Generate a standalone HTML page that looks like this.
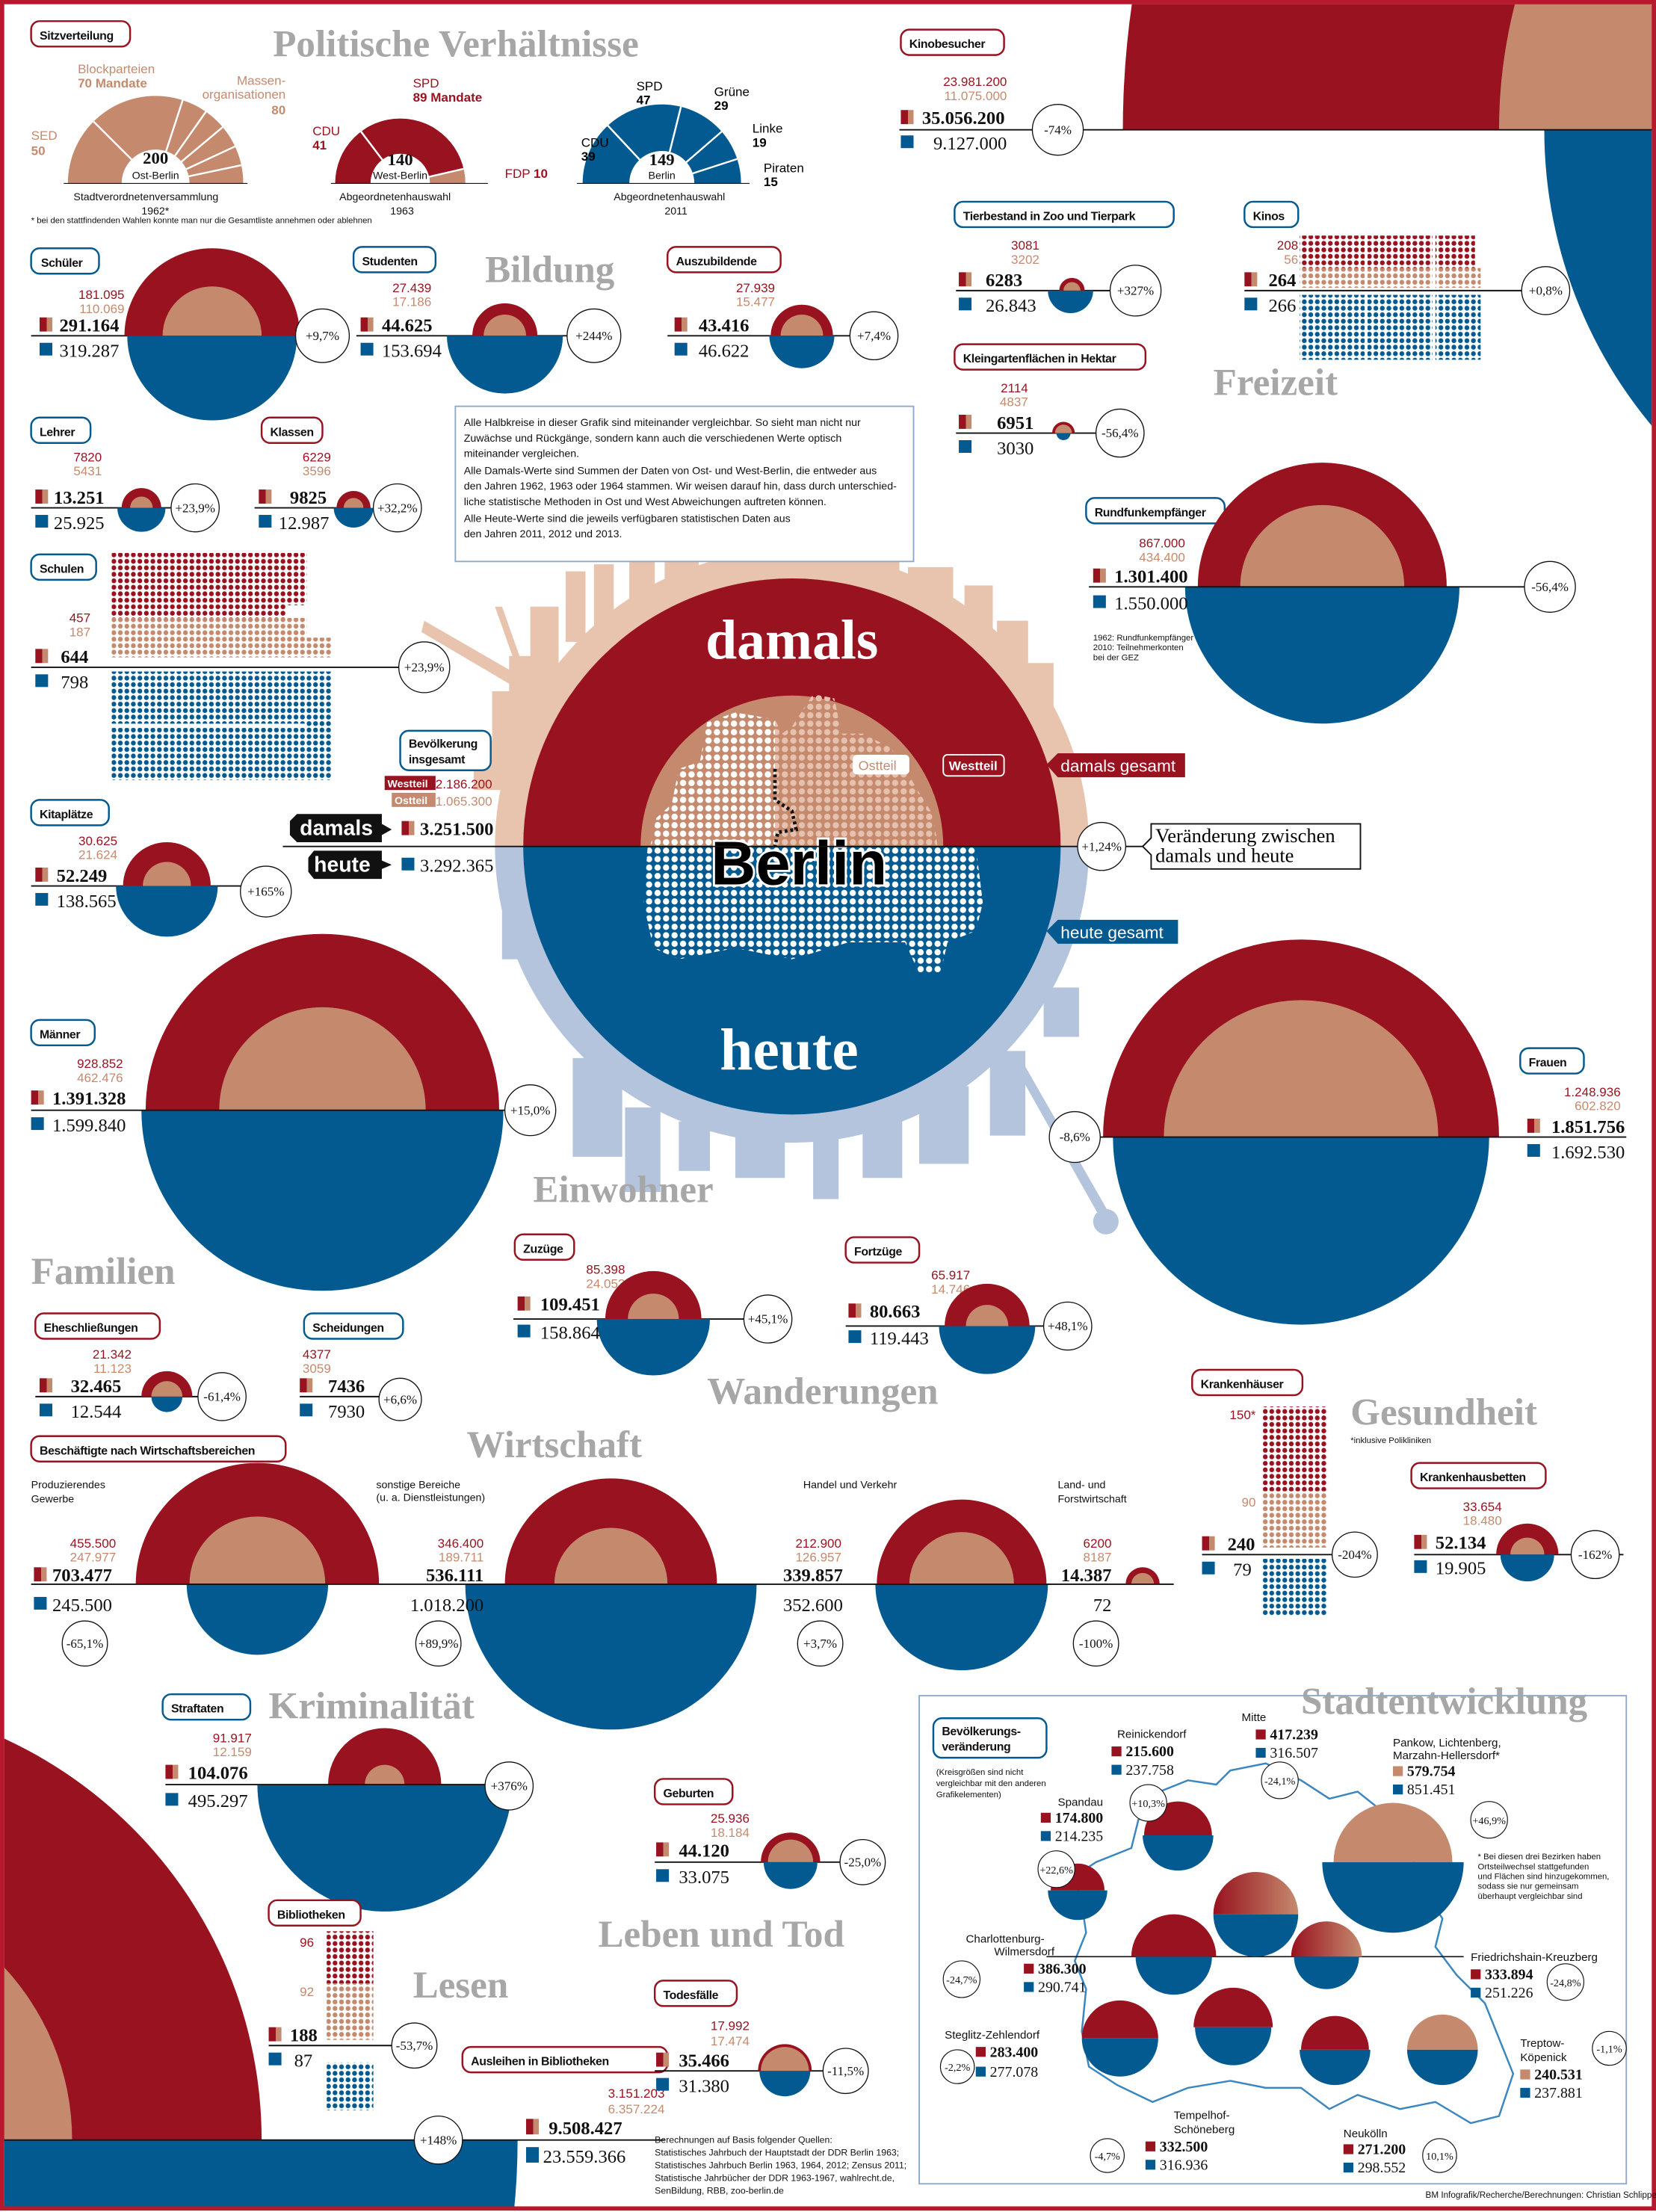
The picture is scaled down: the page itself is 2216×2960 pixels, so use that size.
<!DOCTYPE html>
<html><head><meta charset="utf-8"><style>
html,body{margin:0;padding:0;background:#fff;width:2216px;height:2960px;overflow:hidden}
svg{display:block}
text{font-family:"Liberation Sans",sans-serif}
.h{font-family:"Liberation Serif",serif;font-weight:bold;font-size:27px;fill:#a7a7a7}
.lb{font-weight:bold;font-size:8.4px;fill:#111;letter-spacing:-0.2px}
.r{font-size:9px;fill:#98121f;text-anchor:end}
.t{font-size:9px;fill:#c58a6e;text-anchor:end}
.n{font-family:"Liberation Serif",serif;font-weight:bold;font-size:13px;fill:#111}
.nb{font-family:"Liberation Serif",serif;font-size:13px;fill:#111}
.pc{font-family:"Liberation Serif",serif;font-size:9px;fill:#111;text-anchor:middle}
.sm{font-size:7.5px;fill:#111}
.xs{font-size:6px;fill:#111}
</style></head><body>
<svg width="2216" height="2960" viewBox="0 0 1171 1568" preserveAspectRatio="none" xmlns="http://www.w3.org/2000/svg">
<defs>
<pattern id="pR" width="4.6" height="4.6" patternUnits="userSpaceOnUse"><circle cx="2.3" cy="2.3" r="1.7" fill="#98121f"/></pattern>
<pattern id="pT" width="4.6" height="4.6" patternUnits="userSpaceOnUse"><circle cx="2.3" cy="2.3" r="1.7" fill="#c58a6e"/></pattern>
<pattern id="pB" width="4.6" height="4.6" patternUnits="userSpaceOnUse"><circle cx="2.3" cy="2.3" r="1.7" fill="#035a91"/></pattern>
<pattern id="pW" width="6" height="6" patternUnits="userSpaceOnUse"><circle cx="3" cy="3" r="2.2" fill="#fff"/></pattern>
<pattern id="pW2" width="6" height="6" patternUnits="userSpaceOnUse"><circle cx="3" cy="3" r="2.2" fill="#e6c2ae"/></pattern>
<linearGradient id="ic"><stop offset="0.55" stop-color="#98121f"/><stop offset="0.55" stop-color="#c58a6e"/></linearGradient>
<linearGradient id="gt" x1="0" x2="1"><stop offset="0" stop-color="#98121f"/><stop offset="1" stop-color="#c58a6e"/></linearGradient>
<clipPath id="pg"><rect x="3" y="3" width="1165" height="1562"/></clipPath>
</defs>

<!-- big corner shapes -->
<g clip-path="url(#pg)">
<path d="M794,92 A626,626 0 0 1 2046,92Z" fill="#98121f"/>
<path d="M1060,92 A360,360 0 0 1 1780,92Z" fill="#c58a6e"/>
<path d="M1092,92 A328,328 0 0 0 1748,92Z" fill="#035a91"/>
<path d="M-442,1517 A313,313 0 0 1 185,1517Z" fill="#98121f"/>
<path d="M-309,1517 A180,180 0 0 1 51,1517Z" fill="#c58a6e"/>
<path d="M-622,1517 A494,494 0 0 0 366,1517Z" fill="#035a91"/>
</g>
<line x1="636" y1="92" x2="1171" y2="92" stroke="#111" stroke-width="1"/>
<line x1="0" y1="1517" x2="470" y2="1517" stroke="#111" stroke-width="1"/>

<!-- skyline -->
<g fill="#e8c4ae">
<path d="M350,600 A210,210 0 0 1 770,600Z"/>
<rect x="375" y="430" width="20" height="60"/><rect x="400" y="405" width="14" height="50"/>
<rect x="420" y="400" width="14" height="45"/><rect x="445" y="392" width="18" height="35"/>
<rect x="470" y="398" width="24" height="25"/><rect x="502" y="378" width="8" height="35"/>
<rect x="518" y="388" width="26" height="22"/><rect x="550" y="392" width="14" height="20"/>
<rect x="574" y="382" width="10" height="30"/><rect x="600" y="385" width="8" height="30"/>
<rect x="614" y="392" width="22" height="22"/><rect x="642" y="402" width="32" height="24"/>
<rect x="682" y="415" width="20" height="40"/>
<rect x="705" y="440" width="22" height="40"/><rect x="725" y="470" width="20" height="50"/>
<rect x="348" y="490" width="30" height="50"/><rect x="335" y="525" width="35" height="35"/>
<rect x="360" y="465" width="24" height="35"/>
<polygon points="300,440 395,495 391,503 298,448"/>
<polygon points="350,430 355,430 385,515 380,515"/>
</g>
<g fill="#b3c4dc">
<path d="M350,600 A210,210 0 0 0 770,600Z"/>
<rect x="355" y="610" width="30" height="70"/>
<rect x="405" y="750" width="35" height="70"/><rect x="442" y="785" width="25" height="60"/>
<rect x="480" y="795" width="22" height="35"/><rect x="520" y="800" width="35" height="35"/>
<rect x="575" y="800" width="18" height="50"/><rect x="610" y="790" width="28" height="45"/>
<rect x="650" y="770" width="35" height="55"/><rect x="700" y="745" width="25" height="60"/>
<rect x="738" y="700" width="25" height="35"/>
<polygon points="720,760 725,756 790,870 784,874"/>
<circle cx="782" cy="866" r="9"/>
</g>

<!-- central circle -->
<path d="M370,600 A190,190 0 0 1 750,600Z" fill="#98121f"/>
<path d="M453,600 A107,107 0 0 1 667,600Z" fill="#c58a6e"/>
<path d="M370,600 A190,190 0 0 0 750,600Z" fill="#035a91"/>
<polygon points="460,600 464,580 475,570 480,545 495,540 500,512 520,505 548,510 553,520 560,515 575,492 590,495 595,520 610,520 630,530 640,545 650,562 660,578 663,600" fill="url(#pW2)"/>
<polygon points="460,600 464,580 475,570 480,545 495,540 500,512 520,505 548,510 548,600" fill="url(#pW)"/>
<polygon points="458,600 470,600 690,600 695,640 690,660 670,668 665,690 650,690 640,668 600,668 560,680 520,672 480,680 462,672 455,640" fill="url(#pW)"/>
<polyline points="548,545 548,567 560,575 563,588 550,590 548,600" fill="none" stroke="#111" stroke-width="2.5" stroke-dasharray="2,2"/>
<text x="560" y="467" text-anchor="middle" style="font-family:'Liberation Serif',serif;font-weight:bold;font-size:40px;fill:#fff">damals</text>
<text x="558" y="758" text-anchor="middle" style="font-family:'Liberation Serif',serif;font-weight:bold;font-size:42px;fill:#fff">heute</text>
<text x="565" y="627" text-anchor="middle" style="font-weight:bold;font-size:44px;fill:#000;stroke:#fff;stroke-width:3;paint-order:stroke">Berlin</text>
<rect x="603" y="535" width="40" height="14" rx="3" fill="#fff"/>
<text x="607" y="546" style="font-size:9.5px;fill:#c58a6e">Ostteil</text>
<rect x="667" y="535" width="43" height="15" rx="3" fill="#98121f" stroke="#fff"/>
<text x="671" y="546" style="font-size:9px;fill:#fff;font-weight:bold">Westteil</text>
<polygon points="740,542 748,534 838,534 838,551 748,551" fill="#98121f"/>
<text x="750" y="547" style="font-size:12px;fill:#fff">damals gesamt</text>
<polygon points="740,660 748,652 833,652 833,669 748,669" fill="#035a91"/>
<text x="750" y="665" style="font-size:12px;fill:#fff">heute gesamt</text>
<line x1="200" y1="600" x2="808" y2="600" stroke="#111"/>
<circle cx="779" cy="600" r="17" fill="#fff" stroke="#111" stroke-width="0.7"/><text x="779" y="603" class="pc">+1,24%</text>
<polygon points="808,600 814,594 814,584 962,584 962,616 814,616 814,606" fill="#fff" stroke="#111"/>
<text x="817" y="597" style="font-family:'Liberation Serif',serif;font-size:14px">Veränderung zwischen</text>
<text x="817" y="611" style="font-family:'Liberation Serif',serif;font-size:14px">damals und heute</text>

<!-- border -->
<rect x="1.5" y="1.5" width="1168" height="1564" fill="none" stroke="#b8182d" stroke-width="3"/>

<!-- Politische Verhältnisse -->
<text x="193" y="40" class="h">Politische Verhältnisse</text>
<rect x="22" y="15" width="70" height="18" rx="6" fill="#fff" stroke="#98121f" stroke-width="1.3"/><text x="28" y="28" class="lb">Sitzverteilung</text>
<path d="M48,130 A62,62 0 0 1 172,130Z" fill="#c58a6e"/>
<g stroke="#fff" stroke-width="1.3"><line x1="110" y1="130" x2="66.2" y2="86.2"/><line x1="110" y1="130" x2="129.2" y2="71"/><line x1="110" y1="130" x2="145.6" y2="79.2"/><line x1="110" y1="130" x2="157.5" y2="90.1"/><line x1="110" y1="130" x2="166.2" y2="103.8"/><line x1="110" y1="130" x2="170.6" y2="117.1"/></g>
<path d="M86,130 A24,24 0 0 1 134,130Z" fill="#fff"/>
<text x="110" y="116" text-anchor="middle" class="n" style="font-size:12px">200</text>
<text x="110" y="127" text-anchor="middle" class="sm">Ost-Berlin</text>
<line x1="45" y1="130" x2="175" y2="130" stroke="#111" stroke-width="0.6"/>
<text x="55" y="52" style="font-size:9px;fill:#c58a6e">Blockparteien</text>
<text x="55" y="62" style="font-size:9px;fill:#c58a6e;font-weight:bold">70 Mandate</text>
<text x="202" y="60" text-anchor="end" style="font-size:9px;fill:#c58a6e">Massen-</text>
<text x="202" y="70" text-anchor="end" style="font-size:9px;fill:#c58a6e">organisationen</text>
<text x="202" y="81" text-anchor="end" style="font-size:9px;fill:#c58a6e;font-weight:bold">80</text>
<text x="22" y="99" style="font-size:9px;fill:#c58a6e">SED</text>
<text x="22" y="110" style="font-size:9px;fill:#c58a6e;font-weight:bold">50</text>
<text x="52" y="142" class="sm">Stadtverordnetenversammlung</text>
<text x="100" y="152" class="sm">1962*</text>
<text x="22" y="158" class="xs">* bei den stattfindenden Wahlen konnte man nur die Gesamtliste annehmen oder ablehnen</text>

<path d="M237,130 A46,46 0 0 1 329,130Z" fill="#98121f"/>
<path d="M283,130 L329,130 A46,46 0 0 0 327.8,119.7Z" fill="#c58a6e"/>
<g stroke="#fff" stroke-width="1.3"><line x1="283" y1="130" x2="255.3" y2="93.3"/><line x1="283" y1="130" x2="327.8" y2="119.7"/></g>
<path d="M262,130 A21,21 0 0 1 304,130Z" fill="#fff"/>
<text x="283" y="117" text-anchor="middle" class="n" style="font-size:12px">140</text>
<text x="283" y="127" text-anchor="middle" class="sm">West-Berlin</text>
<line x1="234" y1="130" x2="345" y2="130" stroke="#111" stroke-width="0.6"/>
<text x="292" y="62" style="font-size:9px;fill:#98121f">SPD</text>
<text x="292" y="72" style="font-size:9px;fill:#98121f;font-weight:bold">89 Mandate</text>
<text x="221" y="96" style="font-size:9px;fill:#98121f">CDU</text>
<text x="221" y="106" style="font-size:9px;fill:#98121f;font-weight:bold">41</text>
<text x="357" y="126" style="font-size:9px;fill:#98121f">FDP <tspan font-weight="bold">10</tspan></text>
<text x="240" y="142" class="sm">Abgeordnetenhauswahl</text>
<text x="276" y="152" class="sm">1963</text>

<path d="M412,130 A56,56 0 0 1 524,130Z" fill="#035a91"/>
<g stroke="#fff" stroke-width="1.3"><line x1="468" y1="130" x2="429.8" y2="89"/><line x1="468" y1="130" x2="481.5" y2="75.7"/><line x1="468" y1="130" x2="510.3" y2="93.3"/><line x1="468" y1="130" x2="521.3" y2="112.7"/></g>
<path d="M445,130 A23,23 0 0 1 491,130Z" fill="#fff"/>
<text x="468" y="117" text-anchor="middle" class="n" style="font-size:12px">149</text>
<text x="468" y="127" text-anchor="middle" class="sm">Berlin</text>
<line x1="408" y1="130" x2="530" y2="130" stroke="#111" stroke-width="0.6"/>
<text x="450" y="64" style="font-size:9px">SPD</text><text x="450" y="74" style="font-size:9px;font-weight:bold">47</text>
<text x="505" y="68" style="font-size:9px">Grüne</text><text x="505" y="78" style="font-size:9px;font-weight:bold">29</text>
<text x="532" y="94" style="font-size:9px">Linke</text><text x="532" y="104" style="font-size:9px;font-weight:bold">19</text>
<text x="411" y="104" style="font-size:9px">CDU</text><text x="411" y="114" style="font-size:9px;font-weight:bold">39</text>
<text x="540" y="122" style="font-size:9px">Piraten</text><text x="540" y="132" style="font-size:9px;font-weight:bold">15</text>
<text x="434" y="142" class="sm">Abgeordnetenhauswahl</text>
<text x="470" y="152" class="sm">2011</text>

<!-- Kinobesucher -->
<rect x="637" y="21" width="73" height="18" rx="6" fill="#fff" stroke="#98121f" stroke-width="1.3"/><text x="643" y="34" class="lb">Kinobesucher</text>
<text x="712" y="61" class="r">23.981.200</text><text x="712" y="71" class="t">11.075.000</text>
<rect x="637" y="78" width="9" height="10" fill="url(#ic)"/><text x="652" y="88" class="n">35.056.200</text>
<rect x="637" y="96" width="9" height="9" fill="#035a91"/><text x="660" y="106" class="nb">9.127.000</text>
<circle cx="748" cy="92" r="18" fill="#fff" stroke="#111" stroke-width="0.7"/><text x="748" y="95" class="pc">-74%</text>

<!-- Bildung -->
<text x="343" y="200" class="h">Bildung</text>
<rect x="22" y="176" width="48" height="18" rx="6" fill="#fff" stroke="#035a91" stroke-width="1.3"/><text x="29" y="189" class="lb">Schüler</text>
<text x="88" y="212" class="r">181.095</text><text x="88" y="222" class="t">110.069</text>
<rect x="28" y="225" width="9" height="10" fill="url(#ic)"/><text x="42" y="235" class="n">291.164</text>
<line x1="22" y1="238" x2="210" y2="238" stroke="#111"/>
<path d="M88,238 A62,62 0 0 1 212,238Z" fill="#98121f"/><path d="M115,238 A35,35 0 0 1 185,238Z" fill="#c58a6e"/><path d="M90,238 A60,60 0 0 0 210,238Z" fill="#035a91"/>
<rect x="28" y="243" width="9" height="9" fill="#035a91"/><text x="42" y="253" class="nb">319.287</text>
<circle cx="228" cy="238" r="19" fill="#fff" stroke="#111" stroke-width="0.7"/><text x="228" y="241" class="pc">+9,7%</text>

<rect x="250" y="175" width="58" height="18" rx="6" fill="#fff" stroke="#035a91" stroke-width="1.3"/><text x="256" y="188" class="lb">Studenten</text>
<text x="305" y="207" class="r">27.439</text><text x="305" y="217" class="t">17.186</text>
<rect x="255" y="225" width="9" height="10" fill="url(#ic)"/><text x="270" y="235" class="n">44.625</text>
<line x1="252" y1="238" x2="402" y2="238" stroke="#111"/>
<path d="M334,238 A23,23 0 0 1 380,238Z" fill="#98121f"/><path d="M342,238 A15,15 0 0 1 372,238Z" fill="#c58a6e"/><path d="M316,238 A41,41 0 0 0 398,238Z" fill="#035a91"/>
<rect x="255" y="243" width="9" height="9" fill="#035a91"/><text x="270" y="253" class="nb">153.694</text>
<circle cx="420" cy="238" r="19" fill="#fff" stroke="#111" stroke-width="0.7"/><text x="420" y="241" class="pc">+244%</text>

<rect x="472" y="175" width="80" height="18" rx="6" fill="#fff" stroke="#98121f" stroke-width="1.3"/><text x="478" y="188" class="lb">Auszubildende</text>
<text x="548" y="207" class="r">27.939</text><text x="548" y="217" class="t">15.477</text>
<rect x="477" y="225" width="9" height="10" fill="url(#ic)"/><text x="494" y="235" class="n">43.416</text>
<line x1="472" y1="238" x2="602" y2="238" stroke="#111"/>
<path d="M545,238 A22,22 0 0 1 589,238Z" fill="#98121f"/><path d="M552,238 A15,15 0 0 1 582,238Z" fill="#c58a6e"/><path d="M544,238 A23,23 0 0 0 590,238Z" fill="#035a91"/>
<rect x="477" y="243" width="9" height="9" fill="#035a91"/><text x="494" y="253" class="nb">46.622</text>
<circle cx="618" cy="238" r="17" fill="#fff" stroke="#111" stroke-width="0.7"/><text x="618" y="241" class="pc">+7,4%</text>

<rect x="22" y="296" width="42" height="18" rx="6" fill="#fff" stroke="#035a91" stroke-width="1.3"/><text x="28" y="309" class="lb">Lehrer</text>
<text x="72" y="327" class="r">7820</text><text x="72" y="337" class="t">5431</text>
<rect x="25" y="347" width="9" height="10" fill="url(#ic)"/><text x="38" y="357" class="n">13.251</text>
<line x1="22" y1="360" x2="122" y2="360" stroke="#111"/>
<path d="M86,360 A14,14 0 0 1 114,360Z" fill="#98121f"/><path d="M92,360 A8,8 0 0 1 108,360Z" fill="#c58a6e"/><path d="M83,360 A17,17 0 0 0 117,360Z" fill="#035a91"/>
<rect x="25" y="365" width="9" height="9" fill="#035a91"/><text x="38" y="375" class="nb">25.925</text>
<circle cx="138" cy="360" r="17" fill="#fff" stroke="#111" stroke-width="0.7"/><text x="138" y="363" class="pc">+23,9%</text>

<rect x="185" y="296" width="43" height="18" rx="6" fill="#fff" stroke="#98121f" stroke-width="1.3"/><text x="191" y="309" class="lb">Klassen</text>
<text x="234" y="327" class="r">6229</text><text x="234" y="337" class="t">3596</text>
<rect x="183" y="347" width="9" height="10" fill="url(#ic)"/><text x="205" y="357" class="n">9825</text>
<line x1="180" y1="360" x2="262" y2="360" stroke="#111"/>
<path d="M238,360 A12,12 0 0 1 262,360Z" fill="#98121f"/><path d="M243,360 A7,7 0 0 1 257,360Z" fill="#c58a6e"/><path d="M236,360 A14,14 0 0 0 264,360Z" fill="#035a91"/>
<rect x="183" y="365" width="9" height="9" fill="#035a91"/><text x="197" y="375" class="nb">12.987</text>
<circle cx="281" cy="360" r="17" fill="#fff" stroke="#111" stroke-width="0.7"/><text x="281" y="363" class="pc">+32,2%</text>

<rect x="322" y="288" width="324" height="110" fill="#fff" stroke="#8fa9c8" stroke-width="1"/>
<g>
<text x="328" y="302" class="sm">Alle Halbkreise in dieser Grafik sind miteinander vergleichbar. So sieht man nicht nur</text>
<text x="328" y="313" class="sm">Zuwächse und Rückgänge, sondern kann auch die verschiedenen Werte optisch</text>
<text x="328" y="324" class="sm">miteinander vergleichen.</text>
<text x="328" y="336" class="sm">Alle Damals-Werte sind Summen der Daten von Ost- und West-Berlin, die entweder aus</text>
<text x="328" y="347" class="sm">den Jahren 1962, 1963 oder 1964 stammen. Wir weisen darauf hin, dass durch unterschied-</text>
<text x="328" y="358" class="sm">liche statistische Methoden in Ost und West Abweichungen auftreten können.</text>
<text x="328" y="370" class="sm">Alle Heute-Werte sind die jeweils verfügbaren statistischen Daten aus</text>
<text x="328" y="381" class="sm">den Jahren 2011, 2012  und 2013.</text>
</g>

<!-- Schulen -->
<rect x="22" y="393" width="46" height="18" rx="6" fill="#fff" stroke="#035a91" stroke-width="1.3"/><text x="28" y="406" class="lb">Schulen</text>
<text x="64" y="441" class="r">457</text><text x="64" y="451" class="t">187</text>
<rect x="25" y="460" width="9" height="10" fill="url(#ic)"/><text x="43" y="470" class="n">644</text>
<rect x="25" y="478" width="9" height="9" fill="#035a91"/><text x="43" y="488" class="nb">798</text>
<rect x="79" y="392" width="46" height="37" fill="url(#pR)"/><rect x="125" y="392" width="46" height="37" fill="url(#pR)"/><rect x="171" y="392" width="46" height="37" fill="url(#pR)"/>
<rect x="79" y="429" width="46" height="9" fill="url(#pR)"/><rect x="125" y="429" width="46" height="9" fill="url(#pR)"/><rect x="171" y="429" width="32" height="9" fill="url(#pR)"/>
<rect x="79" y="438" width="46" height="28" fill="url(#pT)"/><rect x="125" y="438" width="46" height="28" fill="url(#pT)"/><rect x="171" y="438" width="46" height="28" fill="url(#pT)"/><rect x="217" y="452" width="18" height="14" fill="url(#pT)"/>
<rect x="79" y="476" width="46" height="37" fill="url(#pB)"/><rect x="125" y="476" width="46" height="37" fill="url(#pB)"/><rect x="171" y="476" width="46" height="37" fill="url(#pB)"/>
<rect x="79" y="516" width="46" height="37" fill="url(#pB)"/><rect x="125" y="516" width="46" height="37" fill="url(#pB)"/><rect x="171" y="516" width="46" height="37" fill="url(#pB)"/><rect x="217" y="476" width="18" height="77" fill="url(#pB)"/>
<line x1="22" y1="473" x2="282" y2="473" stroke="#111"/>
<circle cx="300" cy="473" r="18" fill="#fff" stroke="#111" stroke-width="0.7"/><text x="300" y="476" class="pc">+23,9%</text>

<!-- Kita -->
<rect x="22" y="567" width="55" height="18" rx="6" fill="#fff" stroke="#035a91" stroke-width="1.3"/><text x="28" y="580" class="lb">Kitaplätze</text>
<text x="83" y="599" class="r">30.625</text><text x="83" y="609" class="t">21.624</text>
<rect x="25" y="615" width="9" height="10" fill="url(#ic)"/><text x="40" y="625" class="n">52.249</text>
<line x1="22" y1="628" x2="172" y2="628" stroke="#111"/>
<path d="M87,628 A31,31 0 0 1 149,628Z" fill="#98121f"/><path d="M101,628 A17,17 0 0 1 135,628Z" fill="#c58a6e"/><path d="M82,628 A36,36 0 0 0 154,628Z" fill="#035a91"/>
<rect x="25" y="633" width="9" height="9" fill="#035a91"/><text x="40" y="643" class="nb">138.565</text>
<circle cx="188" cy="632" r="18" fill="#fff" stroke="#111" stroke-width="0.7"/><text x="188" y="635" class="pc">+165%</text>

<!-- Bevölkerung -->
<rect x="283" y="518" width="64" height="28" rx="6" fill="#fff" stroke="#035a91" stroke-width="1.3"/><text x="289" y="530" class="lb">Bevölkerung</text><text x="289" y="541" class="lb">insgesamt</text>
<rect x="272" y="550" width="36" height="10" fill="#98121f"/><text x="274" y="558" style="font-size:7.5px;fill:#fff;font-weight:bold">Westteil</text><text x="348" y="559" class="r">2.186.200</text>
<rect x="277" y="562" width="31" height="10" fill="#c58a6e"/><text x="279" y="570" style="font-size:7.5px;fill:#fff;font-weight:bold">Ostteil</text><text x="348" y="571" class="t">1.065.300</text>
<polygon points="210,577 270,577 270,584 277,588 270,592 270,597 210,597 205,592 205,582" fill="#111"/>
<text x="212" y="592" style="font-size:15px;fill:#fff;font-weight:bold">damals</text>
<rect x="284" y="582" width="9" height="10" fill="url(#ic)"/><text x="297" y="592" class="n">3.251.500</text>
<polygon points="222,603 270,603 270,610 277,613 270,616 270,623 222,623 218,618 218,608" fill="#111"/>
<text x="222" y="618" style="font-size:15px;fill:#fff;font-weight:bold">heute</text>
<rect x="284" y="608" width="9" height="9" fill="#035a91"/><text x="297" y="618" class="nb">3.292.365</text>

<!-- Männer -->
<rect x="22" y="723" width="45" height="18" rx="6" fill="#fff" stroke="#035a91" stroke-width="1.3"/><text x="28" y="736" class="lb">Männer</text>
<text x="87" y="757" class="r">928.852</text><text x="87" y="767" class="t">462.476</text>
<rect x="22" y="773" width="9" height="10" fill="url(#ic)"/><text x="37" y="783" class="n">1.391.328</text>
<path d="M103,787 A125,125 0 0 1 353,787Z" fill="#98121f"/><path d="M155,787 A73,73 0 0 1 301,787Z" fill="#c58a6e"/><path d="M100,787 A128,128 0 0 0 356,787Z" fill="#035a91"/>
<line x1="22" y1="787" x2="360" y2="787" stroke="#111"/>
<rect x="22" y="792" width="9" height="9" fill="#035a91"/><text x="37" y="802" class="nb">1.599.840</text>
<circle cx="375" cy="787" r="18" fill="#fff" stroke="#111" stroke-width="0.7"/><text x="375" y="790" class="pc">+15,0%</text>

<!-- Frauen -->
<rect x="1075" y="743" width="45" height="18" rx="6" fill="#fff" stroke="#035a91" stroke-width="1.3"/><text x="1081" y="756" class="lb">Frauen</text>
<text x="1146" y="777" class="r">1.248.936</text><text x="1146" y="787" class="t">602.820</text>
<path d="M780,806 A140,140 0 0 1 1060,806Z" fill="#98121f"/><path d="M823,806 A97,97 0 0 1 1017,806Z" fill="#c58a6e"/><path d="M787,806 A133,133 0 0 0 1053,806Z" fill="#035a91"/>
<line x1="745" y1="806" x2="1150" y2="806" stroke="#111"/>
<rect x="1080" y="793" width="9" height="10" fill="url(#ic)"/><text x="1097" y="803" class="n">1.851.756</text>
<rect x="1080" y="811" width="9" height="9" fill="#035a91"/><text x="1097" y="821" class="nb">1.692.530</text>
<circle cx="760" cy="806" r="18" fill="#fff" stroke="#111" stroke-width="0.7"/><text x="760" y="809" class="pc">-8,6%</text>

<!-- Freizeit -->
<rect x="675" y="143" width="155" height="18" rx="6" fill="#fff" stroke="#035a91" stroke-width="1.3"/><text x="681" y="156" class="lb">Tierbestand in  Zoo und Tierpark</text>
<text x="735" y="177" class="r">3081</text><text x="735" y="187" class="t">3202</text>
<rect x="678" y="193" width="9" height="10" fill="url(#ic)"/><text x="697" y="203" class="n">6283</text>
<line x1="676" y1="206" x2="785" y2="206" stroke="#111"/>
<path d="M749,206 A9,9 0 0 1 767,206Z" fill="#98121f"/><path d="M752,206 A6,6 0 0 1 764,206Z" fill="#c58a6e"/><path d="M741,206 A16,16 0 0 0 773,206Z" fill="#035a91"/>
<rect x="678" y="211" width="9" height="9" fill="#035a91"/><text x="697" y="221" class="nb">26.843</text>
<circle cx="803" cy="206" r="18" fill="#fff" stroke="#111" stroke-width="0.7"/><text x="803" y="209" class="pc">+327%</text>

<rect x="675" y="244" width="135" height="18" rx="6" fill="#fff" stroke="#98121f" stroke-width="1.3"/><text x="681" y="257" class="lb">Kleingartenflächen in Hektar</text>
<text x="727" y="278" class="r">2114</text><text x="727" y="288" class="t">4837</text>
<rect x="678" y="294" width="9" height="10" fill="url(#ic)"/><text x="705" y="304" class="n">6951</text>
<line x1="676" y1="307" x2="775" y2="307" stroke="#111"/>
<path d="M744,307 A8,8 0 0 1 760,307Z" fill="#98121f"/><path d="M746,307 A6,6 0 0 1 758,307Z" fill="#c58a6e"/><path d="M747,307 A5,5 0 0 0 757,307Z" fill="#035a91"/>
<rect x="678" y="312" width="9" height="9" fill="#035a91"/><text x="705" y="322" class="nb">3030</text>
<circle cx="792" cy="307" r="17" fill="#fff" stroke="#111" stroke-width="0.7"/><text x="792" y="310" class="pc">-56,4%</text>

<rect x="880" y="143" width="38" height="18" rx="6" fill="#fff" stroke="#035a91" stroke-width="1.3"/><text x="886" y="156" class="lb">Kinos</text>
<text x="918" y="177" class="r">208</text><text x="918" y="187" class="t">56</text>
<rect x="880" y="193" width="9" height="10" fill="url(#ic)"/><text x="897" y="203" class="n">264</text>
<rect x="880" y="211" width="9" height="9" fill="#035a91"/><text x="897" y="221" class="nb">266</text>
<rect x="919" y="167" width="46" height="23" fill="url(#pR)"/><rect x="967" y="167" width="46" height="23" fill="url(#pR)"/><rect x="1015" y="167" width="28" height="23" fill="url(#pR)"/>
<rect x="919" y="190" width="46" height="14" fill="url(#pT)"/><rect x="967" y="190" width="46" height="14" fill="url(#pT)"/><rect x="1015" y="190" width="32" height="14" fill="url(#pT)"/>
<rect x="919" y="209" width="46" height="46" fill="url(#pB)"/><rect x="967" y="209" width="46" height="46" fill="url(#pB)"/><rect x="1015" y="209" width="32" height="46" fill="url(#pB)"/>
<line x1="880" y1="206" x2="1080" y2="206" stroke="#111"/>
<circle cx="1093" cy="206" r="17" fill="#fff" stroke="#111" stroke-width="0.7"/><text x="1093" y="209" class="pc">+0,8%</text>
<text x="858" y="280" class="h">Freizeit</text>

<rect x="768" y="353" width="98" height="18" rx="6" fill="#fff" stroke="#035a91" stroke-width="1.3"/><text x="774" y="366" class="lb">Rundfunkempfänger</text>
<text x="838" y="388" class="r">867.000</text><text x="838" y="398" class="t">434.400</text>
<path d="M847,416 A88,88 0 0 1 1023,416Z" fill="#98121f"/><path d="M877,416 A58,58 0 0 1 993,416Z" fill="#c58a6e"/><path d="M838,416 A97,97 0 0 0 1032,416Z" fill="#035a91"/>
<line x1="770" y1="416" x2="1080" y2="416" stroke="#111"/>
<rect x="773" y="403" width="9" height="10" fill="url(#ic)"/><text x="788" y="413" class="n">1.301.400</text>
<rect x="773" y="422" width="9" height="9" fill="#035a91"/><text x="788" y="432" class="nb">1.550.000</text>
<text x="773" y="454" class="xs">1962: Rundfunkempfänger</text><text x="773" y="461" class="xs">2010: Teilnehmerkonten</text><text x="773" y="468" class="xs">bei der GEZ</text>
<circle cx="1096" cy="416" r="18" fill="#fff" stroke="#111" stroke-width="0.7"/><text x="1096" y="419" class="pc">-56,4%</text>

<!-- Einwohner / Familien / Wanderungen -->
<text x="377" y="852" class="h">Einwohner</text>
<text x="22" y="910" class="h">Familien</text>
<text x="500" y="995" class="h">Wanderungen</text>

<rect x="364" y="875" width="42" height="18" rx="6" fill="#fff" stroke="#98121f" stroke-width="1.3"/><text x="370" y="888" class="lb">Zuzüge</text>
<text x="442" y="903" class="r">85.398</text><text x="442" y="913" class="t">24.053</text>
<rect x="366" y="919" width="9" height="10" fill="url(#ic)"/><text x="382" y="929" class="n">109.451</text>
<line x1="363" y1="935" x2="528" y2="935" stroke="#111"/>
<path d="M428,935 A34,34 0 0 1 496,935Z" fill="#98121f"/><path d="M444,935 A18,18 0 0 1 480,935Z" fill="#c58a6e"/><path d="M422,935 A40,40 0 0 0 502,935Z" fill="#035a91"/>
<rect x="366" y="939" width="9" height="9" fill="#035a91"/><text x="382" y="949" class="nb">158.864</text>
<circle cx="543" cy="935" r="17" fill="#fff" stroke="#111" stroke-width="0.7"/><text x="543" y="938" class="pc">+45,1%</text>

<rect x="598" y="877" width="52" height="18" rx="6" fill="#fff" stroke="#98121f" stroke-width="1.3"/><text x="604" y="890" class="lb">Fortzüge</text>
<text x="686" y="907" class="r">65.917</text><text x="686" y="917" class="t">14.746</text>
<rect x="600" y="924" width="9" height="10" fill="url(#ic)"/><text x="615" y="934" class="n">80.663</text>
<line x1="598" y1="940" x2="740" y2="940" stroke="#111"/>
<path d="M668,940 A30,30 0 0 1 728,940Z" fill="#98121f"/><path d="M683,940 A15,15 0 0 1 713,940Z" fill="#c58a6e"/><path d="M664,940 A34,34 0 0 0 732,940Z" fill="#035a91"/>
<rect x="600" y="943" width="9" height="9" fill="#035a91"/><text x="615" y="953" class="nb">119.443</text>
<circle cx="755" cy="940" r="17" fill="#fff" stroke="#111" stroke-width="0.7"/><text x="755" y="943" class="pc">+48,1%</text>

<rect x="25" y="931" width="88" height="18" rx="6" fill="#fff" stroke="#98121f" stroke-width="1.3"/><text x="31" y="944" class="lb">Eheschließungen</text>
<text x="93" y="963" class="r">21.342</text><text x="93" y="973" class="t">11.123</text>
<rect x="28" y="977" width="9" height="10" fill="url(#ic)"/><text x="50" y="987" class="n">32.465</text>
<line x1="25" y1="990" x2="140" y2="990" stroke="#111"/>
<path d="M100,990 A18,18 0 0 1 136,990Z" fill="#98121f"/><path d="M107,990 A11,11 0 0 1 129,990Z" fill="#c58a6e"/><path d="M107,990 A11,11 0 0 0 129,990Z" fill="#035a91"/>
<rect x="28" y="995" width="9" height="9" fill="#035a91"/><text x="50" y="1005" class="nb">12.544</text>
<circle cx="157" cy="990" r="17" fill="#fff" stroke="#111" stroke-width="0.7"/><text x="157" y="993" class="pc">-61,4%</text>

<rect x="215" y="931" width="70" height="18" rx="6" fill="#fff" stroke="#035a91" stroke-width="1.3"/><text x="221" y="944" class="lb">Scheidungen</text>
<text x="234" y="963" class="r">4377</text><text x="234" y="973" class="t">3059</text>
<rect x="212" y="977" width="9" height="10" fill="url(#ic)"/><text x="232" y="987" class="n">7436</text>
<line x1="212" y1="990" x2="268" y2="990" stroke="#111"/>
<rect x="212" y="995" width="9" height="9" fill="#035a91"/><text x="232" y="1005" class="nb">7930</text>
<circle cx="283" cy="992" r="15" fill="#fff" stroke="#111" stroke-width="0.7"/><text x="283" y="995" class="pc">+6,6%</text>

<!-- Wirtschaft -->
<text x="330" y="1033" class="h">Wirtschaft</text>
<rect x="22" y="1018" width="180" height="18" rx="6" fill="#fff" stroke="#98121f" stroke-width="1.3"/><text x="28" y="1031" class="lb">Beschäftigte nach Wirtschaftsbereichen</text>
<path d="M96,1123 A86,86 0 0 1 268,1123Z" fill="#98121f"/><path d="M134,1123 A48,48 0 0 1 230,1123Z" fill="#c58a6e"/><path d="M132,1123 A50,50 0 0 0 232,1123Z" fill="#035a91"/>
<path d="M357,1123 A75,75 0 0 1 507,1123Z" fill="#98121f"/><path d="M392,1123 A40,40 0 0 1 472,1123Z" fill="#c58a6e"/><path d="M329,1123 A103,103 0 0 0 535,1123Z" fill="#035a91"/>
<path d="M620,1123 A60,60 0 0 1 740,1123Z" fill="#98121f"/><path d="M643,1123 A37,37 0 0 1 717,1123Z" fill="#c58a6e"/><path d="M619,1123 A61,61 0 0 0 741,1123Z" fill="#035a91"/>
<path d="M796,1123 A12,12 0 0 1 820,1123Z" fill="#98121f"/><path d="M800,1123 A8,8 0 0 1 816,1123Z" fill="#c58a6e"/>
<line x1="22" y1="1123" x2="830" y2="1123" stroke="#111"/>
<text x="22" y="1055" class="sm">Produzierendes</text><text x="22" y="1065" class="sm">Gewerbe</text>
<text x="82" y="1097" class="r">455.500</text><text x="82" y="1107" class="t">247.977</text>
<rect x="24" y="1111" width="9" height="10" fill="url(#ic)"/><text x="37" y="1121" class="n">703.477</text>
<rect x="24" y="1132" width="9" height="9" fill="#035a91"/><text x="37" y="1142" class="nb">245.500</text>
<circle cx="60" cy="1165" r="16" fill="#fff" stroke="#111" stroke-width="0.7"/><text x="60" y="1168" class="pc">-65,1%</text>
<text x="266" y="1055" class="sm">sonstige Bereiche</text><text x="266" y="1064" class="sm">(u. a. Dienstleistungen)</text>
<text x="342" y="1097" class="r">346.400</text><text x="342" y="1107" class="t">189.711</text>
<text x="342" y="1121" class="n" text-anchor="end">536.111</text><text x="342" y="1142" class="nb" text-anchor="end">1.018.200</text>
<circle cx="310" cy="1165" r="16" fill="#fff" stroke="#111" stroke-width="0.7"/><text x="310" y="1168" class="pc">+89,9%</text>
<text x="568" y="1055" class="sm">Handel und Verkehr</text>
<text x="595" y="1097" class="r">212.900</text><text x="595" y="1107" class="t">126.957</text>
<text x="596" y="1121" class="n" text-anchor="end">339.857</text><text x="596" y="1142" class="nb" text-anchor="end">352.600</text>
<circle cx="580" cy="1165" r="16" fill="#fff" stroke="#111" stroke-width="0.7"/><text x="580" y="1168" class="pc">+3,7%</text>
<text x="748" y="1055" class="sm">Land- und</text><text x="748" y="1065" class="sm">Forstwirtschaft</text>
<text x="786" y="1097" class="r">6200</text><text x="786" y="1107" class="t">8187</text>
<text x="786" y="1121" class="n" text-anchor="end">14.387</text><text x="786" y="1142" class="nb" text-anchor="end">72</text>
<circle cx="775" cy="1165" r="16" fill="#fff" stroke="#111" stroke-width="0.7"/><text x="775" y="1168" class="pc">-100%</text>

<!-- Gesundheit -->
<text x="955" y="1010" class="h">Gesundheit</text>
<text x="955" y="1023" class="xs">*inklusive Polikliniken</text>
<rect x="843" y="971" width="78" height="18" rx="6" fill="#fff" stroke="#98121f" stroke-width="1.3"/><text x="849" y="984" class="lb">Krankenhäuser</text>
<text x="888" y="1006" class="r">150*</text><text x="888" y="1068" class="t">90</text>
<rect x="893" y="997" width="46" height="60" fill="url(#pR)"/>
<rect x="893" y="1057" width="46" height="40" fill="url(#pT)"/>
<rect x="893" y="1105" width="46" height="40" fill="url(#pB)"/>
<rect x="850" y="1089" width="9" height="10" fill="url(#ic)"/><text x="868" y="1099" class="n">240</text>
<line x1="850" y1="1102" x2="945" y2="1102" stroke="#111"/>
<rect x="850" y="1107" width="9" height="9" fill="#035a91"/><text x="872" y="1117" class="nb">79</text>
<circle cx="958" cy="1102" r="16" fill="#fff" stroke="#111" stroke-width="0.7"/><text x="958" y="1105" class="pc">-204%</text>
<rect x="998" y="1037" width="95" height="18" rx="6" fill="#fff" stroke="#98121f" stroke-width="1.3"/><text x="1004" y="1050" class="lb">Krankenhausbetten</text>
<text x="1062" y="1071" class="r">33.654</text><text x="1062" y="1081" class="t">18.480</text>
<rect x="1000" y="1088" width="9" height="10" fill="url(#ic)"/><text x="1015" y="1098" class="n">52.134</text>
<line x1="1000" y1="1102" x2="1148" y2="1102" stroke="#111"/>
<path d="M1058,1102 A22,22 0 0 1 1102,1102Z" fill="#98121f"/><path d="M1068,1102 A12,12 0 0 1 1092,1102Z" fill="#c58a6e"/><path d="M1061,1102 A19,19 0 0 0 1099,1102Z" fill="#035a91"/>
<rect x="1000" y="1106" width="9" height="9" fill="#035a91"/><text x="1015" y="1116" class="nb">19.905</text>
<circle cx="1128" cy="1102" r="17" fill="#fff" stroke="#111" stroke-width="0.7"/><text x="1128" y="1105" class="pc">-162%</text>

<!-- Kriminalität -->
<text x="190" y="1218" class="h">Kriminalität</text>
<rect x="115" y="1201" width="62" height="18" rx="6" fill="#fff" stroke="#035a91" stroke-width="1.3"/><text x="121" y="1214" class="lb">Straftaten</text>
<text x="178" y="1235" class="r">91.917</text><text x="178" y="1245" class="t">12.159</text>
<rect x="117" y="1251" width="9" height="10" fill="url(#ic)"/><text x="133" y="1261" class="n">104.076</text>
<path d="M232,1265 A40,40 0 0 1 312,1265Z" fill="#98121f"/><path d="M258,1265 A14,14 0 0 1 286,1265Z" fill="#c58a6e"/><path d="M182,1265 A90,90 0 0 0 362,1265Z" fill="#035a91"/>
<line x1="117" y1="1265" x2="345" y2="1265" stroke="#111"/>
<rect x="117" y="1271" width="9" height="9" fill="#035a91"/><text x="133" y="1281" class="nb">495.297</text>
<circle cx="360" cy="1266" r="17" fill="#fff" stroke="#111" stroke-width="0.7"/><text x="360" y="1269" class="pc">+376%</text>

<!-- Lesen -->
<rect x="190" y="1347" width="65" height="18" rx="6" fill="#fff" stroke="#98121f" stroke-width="1.3"/><text x="196" y="1360" class="lb">Bibliotheken</text>
<text x="222" y="1380" class="r">96</text><text x="222" y="1415" class="t">92</text>
<rect x="231" y="1369" width="33" height="37" fill="url(#pR)"/>
<rect x="231" y="1406" width="33" height="40" fill="url(#pT)"/>
<rect x="231" y="1462" width="33" height="34" fill="url(#pB)"/>
<rect x="190" y="1437" width="9" height="10" fill="url(#ic)"/><text x="205" y="1447" class="n">188</text>
<line x1="190" y1="1450" x2="280" y2="1450" stroke="#111"/>
<rect x="190" y="1455" width="9" height="9" fill="#035a91"/><text x="208" y="1465" class="nb">87</text>
<circle cx="293" cy="1450" r="16" fill="#fff" stroke="#111" stroke-width="0.7"/><text x="293" y="1453" class="pc">-53,7%</text>
<text x="292" y="1416" class="h">Lesen</text>
<rect x="327" y="1451" width="145" height="18" rx="6" fill="#fff" stroke="#98121f" stroke-width="1.3"/><text x="333" y="1464" class="lb">Ausleihen in Bibliotheken</text>
<text x="470" y="1487" class="r">3.151.203</text><text x="470" y="1498" class="t">6.357.224</text>
<rect x="372" y="1502" width="9" height="11" fill="url(#ic)"/><text x="388" y="1513" class="n">9.508.427</text>
<rect x="372" y="1522" width="9" height="11" fill="#035a91"/><text x="384" y="1533" class="nb">23.559.366</text>
<circle cx="310" cy="1517" r="17" fill="#fff" stroke="#111" stroke-width="0.7"/><text x="310" y="1520" class="pc">+148%</text>

<!-- Leben und Tod -->
<text x="423" y="1380" class="h">Leben und Tod</text>
<rect x="463" y="1261" width="55" height="18" rx="6" fill="#fff" stroke="#98121f" stroke-width="1.3"/><text x="469" y="1274" class="lb">Geburten</text>
<text x="530" y="1292" class="r">25.936</text><text x="530" y="1302" class="t">18.184</text>
<rect x="464" y="1306" width="9" height="10" fill="url(#ic)"/><text x="480" y="1316" class="n">44.120</text>
<line x1="463" y1="1320" x2="595" y2="1320" stroke="#111"/>
<path d="M538,1320 A21,21 0 0 1 580,1320Z" fill="#98121f"/><path d="M543,1320 A16,16 0 0 1 575,1320Z" fill="#c58a6e"/><path d="M540,1320 A19,19 0 0 0 578,1320Z" fill="#035a91"/>
<rect x="464" y="1325" width="9" height="9" fill="#035a91"/><text x="480" y="1335" class="nb">33.075</text>
<circle cx="610" cy="1320" r="16" fill="#fff" stroke="#111" stroke-width="0.7"/><text x="610" y="1323" class="pc">-25,0%</text>

<rect x="463" y="1404" width="58" height="18" rx="6" fill="#fff" stroke="#98121f" stroke-width="1.3"/><text x="469" y="1417" class="lb">Todesfälle</text>
<text x="530" y="1439" class="r">17.992</text><text x="530" y="1450" class="t">17.474</text>
<rect x="464" y="1455" width="9" height="10" fill="url(#ic)"/><text x="480" y="1465" class="n">35.466</text>
<line x1="463" y1="1468" x2="585" y2="1468" stroke="#111"/>
<path d="M536,1468 A19,19 0 0 1 574,1468Z" fill="#98121f"/><path d="M538,1468 A17,17 0 0 1 572,1468Z" fill="#c58a6e"/><path d="M537,1468 A18,18 0 0 0 573,1468Z" fill="#035a91"/>
<rect x="464" y="1473" width="9" height="9" fill="#035a91"/><text x="480" y="1483" class="nb">31.380</text>
<circle cx="598" cy="1468" r="16" fill="#fff" stroke="#111" stroke-width="0.7"/><text x="598" y="1471" class="pc">-11,5%</text>
<text x="463" y="1519" class="xs" style="font-size:6.5px">Berechnungen auf Basis folgender Quellen:</text>
<text x="463" y="1528" class="xs" style="font-size:6.5px">Statistisches Jahrbuch der Hauptstadt der DDR Berlin  1963;</text>
<text x="463" y="1537" class="xs" style="font-size:6.5px">Statistisches Jahrbuch Berlin 1963, 1964, 2012; Zensus 2011;</text>
<text x="463" y="1546" class="xs" style="font-size:6.5px">Statistische Jahrbücher der DDR  1963-1967, wahlrecht.de,</text>
<text x="463" y="1555" class="xs" style="font-size:6.5px">SenBildung, RBB, zoo-berlin.de</text>

<!-- Stadtentwicklung -->
<text x="920" y="1215" class="h">Stadtentwicklung</text>
<rect x="650" y="1202" width="500" height="346" fill="none" stroke="#8fa9c8" stroke-width="1"/>
<rect x="660" y="1218" width="80" height="28" rx="6" fill="#fff" stroke="#035a91" stroke-width="1.3"/><text x="666" y="1230" class="lb">Bevölkerungs-</text><text x="666" y="1241" class="lb">veränderung</text>
<text x="662" y="1258" class="xs">(Kreisgrößen sind nicht</text><text x="662" y="1266" class="xs">vergleichbar mit den anderen</text><text x="662" y="1274" class="xs">Grafikelementen)</text>
<path d="M765,1350 L760,1330 L775,1320 L800,1310 L805,1290 L820,1270 L840,1262 L860,1265 L870,1255 L895,1250 L920,1262 L940,1275 L960,1270 L985,1290 L1000,1320 L1010,1345 L1020,1360 L1015,1380 L1030,1400 L1050,1420 L1060,1445 L1070,1470 L1060,1500 L1040,1505 L1015,1490 L990,1495 L960,1485 L940,1495 L920,1480 L895,1480 L870,1475 L840,1480 L815,1490 L790,1478 L770,1465 L765,1440 L768,1410 L760,1390 L768,1370 Z" fill="none" stroke="#3a86c0" stroke-width="1.3"/>
<line x1="740" y1="1387" x2="1035" y2="1387" stroke="#111" stroke-width="0.8"/>
<g>
<path d="M809,1301 A24,24 0 0 1 857,1301Z" fill="#98121f"/><path d="M808,1301 A25,25 0 0 0 858,1301Z" fill="#035a91"/>
<path d="M858,1357 A30,30 0 0 1 918,1357Z" fill="url(#gt)"/><path d="M858,1357 A30,30 0 0 0 918,1357Z" fill="#035a91"/>
<path d="M943,1320 A42,42 0 0 1 1027,1320Z" fill="#c58a6e"/><path d="M935,1320 A50,50 0 0 0 1035,1320Z" fill="#035a91"/>
<path d="M743,1340 A19,19 0 0 1 781,1340Z" fill="#98121f"/><path d="M741,1340 A21,21 0 0 0 783,1340Z" fill="#035a91"/>
<path d="M800,1387 A30,30 0 0 1 860,1387Z" fill="#98121f"/><path d="M803,1387 A27,27 0 0 0 857,1387Z" fill="#035a91"/>
<path d="M913,1387 A25,25 0 0 1 963,1387Z" fill="url(#gt)"/><path d="M915,1387 A23,23 0 0 0 961,1387Z" fill="#035a91"/>
<path d="M765,1445 A27,27 0 0 1 819,1445Z" fill="#98121f"/><path d="M765,1445 A27,27 0 0 0 819,1445Z" fill="#035a91"/>
<path d="M844,1437 A28,28 0 0 1 900,1437Z" fill="#98121f"/><path d="M845,1437 A27,27 0 0 0 899,1437Z" fill="#035a91"/>
<path d="M920,1453 A24,24 0 0 1 968,1453Z" fill="#98121f"/><path d="M919,1453 A25,25 0 0 0 969,1453Z" fill="#035a91"/>
<path d="M995,1453 A25,25 0 0 1 1045,1453Z" fill="#c58a6e"/><path d="M995,1453 A25,25 0 0 0 1045,1453Z" fill="#035a91"/>
</g>
<g>
<text x="790" y="1232" class="sm" style="font-size:8px">Reinickendorf</text>
<rect x="786" y="1238" width="7" height="7" fill="#98121f"/><text x="796" y="1245" class="n" style="font-size:10.5px">215.600</text>
<rect x="786" y="1251" width="7" height="7" fill="#035a91"/><text x="796" y="1258" class="nb" style="font-size:10.5px">237.758</text>
<circle cx="812" cy="1278" r="13" fill="#fff" stroke="#111" stroke-width="0.6"/><text x="812" y="1281" class="pc" style="font-size:7.5px">+10,3%</text>
<text x="878" y="1220" class="sm" style="font-size:8px">Mitte</text>
<rect x="888" y="1226" width="7" height="7" fill="#98121f"/><text x="898" y="1233" class="n" style="font-size:10.5px">417.239</text>
<rect x="888" y="1239" width="7" height="7" fill="#035a91"/><text x="898" y="1246" class="nb" style="font-size:10.5px">316.507</text>
<circle cx="905" cy="1262" r="13" fill="#fff" stroke="#111" stroke-width="0.6"/><text x="905" y="1265" class="pc" style="font-size:7.5px">-24,1%</text>
<text x="985" y="1238" class="sm" style="font-size:8px">Pankow, Lichtenberg,</text><text x="985" y="1247" class="sm" style="font-size:8px">Marzahn-Hellersdorf*</text>
<rect x="985" y="1252" width="7" height="7" fill="#c58a6e"/><text x="995" y="1259" class="n" style="font-size:10.5px">579.754</text>
<rect x="985" y="1265" width="7" height="7" fill="#035a91"/><text x="995" y="1272" class="nb" style="font-size:10.5px">851.451</text>
<circle cx="1053" cy="1290" r="13" fill="#fff" stroke="#111" stroke-width="0.6"/><text x="1053" y="1293" class="pc" style="font-size:7.5px">+46,9%</text>
<text x="1045" y="1318" class="xs">* Bei diesen drei Bezirken haben</text><text x="1045" y="1325" class="xs">Ortsteilwechsel stattgefunden</text><text x="1045" y="1332" class="xs">und Flächen sind hinzugekommen,</text><text x="1045" y="1339" class="xs">sodass sie nur gemeinsam</text><text x="1045" y="1346" class="xs">überhaupt vergleichbar sind</text>
<text x="748" y="1280" class="sm" style="font-size:8px">Spandau</text>
<rect x="736" y="1285" width="7" height="7" fill="#98121f"/><text x="746" y="1292" class="n" style="font-size:10.5px">174.800</text>
<rect x="736" y="1298" width="7" height="7" fill="#035a91"/><text x="746" y="1305" class="nb" style="font-size:10.5px">214.235</text>
<circle cx="747" cy="1325" r="13" fill="#fff" stroke="#111" stroke-width="0.6"/><text x="747" y="1328" class="pc" style="font-size:7.5px">+22,6%</text>
<text x="683" y="1377" class="sm" style="font-size:8px">Charlottenburg-</text><text x="703" y="1386" class="sm" style="font-size:8px">Wilmersdorf</text>
<rect x="724" y="1392" width="7" height="7" fill="#98121f"/><text x="734" y="1399" class="n" style="font-size:10.5px">386.300</text>
<rect x="724" y="1405" width="7" height="7" fill="#035a91"/><text x="734" y="1412" class="nb" style="font-size:10.5px">290.741</text>
<circle cx="680" cy="1403" r="13" fill="#fff" stroke="#111" stroke-width="0.6"/><text x="680" y="1406" class="pc" style="font-size:7.5px">-24,7%</text>
<text x="1040" y="1390" class="sm" style="font-size:8px">Friedrichshain-Kreuzberg</text>
<rect x="1040" y="1396" width="7" height="7" fill="#98121f"/><text x="1050" y="1403" class="n" style="font-size:10.5px">333.894</text>
<rect x="1040" y="1409" width="7" height="7" fill="#035a91"/><text x="1050" y="1416" class="nb" style="font-size:10.5px">251.226</text>
<circle cx="1107" cy="1405" r="13" fill="#fff" stroke="#111" stroke-width="0.6"/><text x="1107" y="1408" class="pc" style="font-size:7.5px">-24,8%</text>
<text x="668" y="1445" class="sm" style="font-size:8px">Steglitz-Zehlendorf</text>
<rect x="690" y="1451" width="7" height="7" fill="#98121f"/><text x="700" y="1458" class="n" style="font-size:10.5px">283.400</text>
<rect x="690" y="1465" width="7" height="7" fill="#035a91"/><text x="700" y="1472" class="nb" style="font-size:10.5px">277.078</text>
<circle cx="677" cy="1465" r="12" fill="#fff" stroke="#111" stroke-width="0.6"/><text x="677" y="1468" class="pc" style="font-size:7.5px">-2,2%</text>
<text x="830" y="1502" class="sm" style="font-size:8px">Tempelhof-</text><text x="830" y="1512" class="sm" style="font-size:8px">Schöneberg</text>
<rect x="810" y="1518" width="7" height="7" fill="#98121f"/><text x="820" y="1525" class="n" style="font-size:10.5px">332.500</text>
<rect x="810" y="1531" width="7" height="7" fill="#035a91"/><text x="820" y="1538" class="nb" style="font-size:10.5px">316.936</text>
<circle cx="783" cy="1528" r="12" fill="#fff" stroke="#111" stroke-width="0.6"/><text x="783" y="1531" class="pc" style="font-size:7.5px">-4,7%</text>
<text x="950" y="1515" class="sm" style="font-size:8px">Neukölln</text>
<rect x="950" y="1520" width="7" height="7" fill="#98121f"/><text x="960" y="1527" class="n" style="font-size:10.5px">271.200</text>
<rect x="950" y="1533" width="7" height="7" fill="#035a91"/><text x="960" y="1540" class="nb" style="font-size:10.5px">298.552</text>
<circle cx="1018" cy="1528" r="12" fill="#fff" stroke="#111" stroke-width="0.6"/><text x="1018" y="1531" class="pc" style="font-size:7.5px">10,1%</text>
<text x="1075" y="1451" class="sm" style="font-size:8px">Treptow-</text><text x="1075" y="1461" class="sm" style="font-size:8px">Köpenick</text>
<rect x="1075" y="1467" width="7" height="7" fill="#c58a6e"/><text x="1085" y="1474" class="n" style="font-size:10.5px">240.531</text>
<rect x="1075" y="1480" width="7" height="7" fill="#035a91"/><text x="1085" y="1487" class="nb" style="font-size:10.5px">237.881</text>
<circle cx="1138" cy="1452" r="12" fill="#fff" stroke="#111" stroke-width="0.6"/><text x="1138" y="1455" class="pc" style="font-size:7.5px">-1,1%</text>
</g>
<text x="1008" y="1558" class="xs" style="font-size:6.2px">BM Infografik/Recherche/Berechnungen: Christian Schlippes</text>
</svg>
</body></html>
